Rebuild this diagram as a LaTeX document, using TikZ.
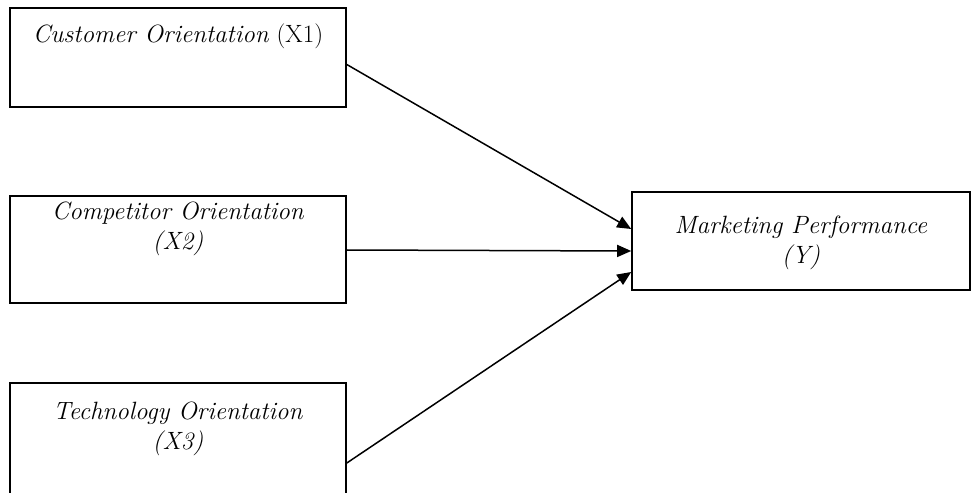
\documentclass[tikz,border=0pt]{standalone}
\usepackage{fontspec}
\setmainfont{Latin Modern Roman}
\usetikzlibrary{arrows.meta,calc}
\begin{document}
\begin{tikzpicture}[x=1bp,y=-1bp,
  box/.style={draw,line width=1.6bp,inner sep=0pt},
  lbl/.style={font=\fontsize{25bp}{30bp}\selectfont,align=center,inner sep=0pt},
  arr/.style={line width=1.5bp,-{Triangle[length=14bp,width=12bp]}}]
\useasboundingbox (0,0) rectangle (974,493);
\node[box,minimum width=336bp,minimum height=99bp] (x1) at (178,57.5) {};
\node[box,minimum width=336bp,minimum height=107bp] (x2) at (178,249.5) {};
\node[box,minimum width=336bp,minimum height=120bp] (x3) at (178,443) {};
\node[box,minimum width=338bp,minimum height=98bp] (y) at (801,241) {};
\node[lbl] (t1) at (178,36) {\textit{Customer Orientation} (X1)};
\node[lbl] (t2) at (178,229) {\textit{Competitor Orientation}\\\textit{(X2)}};
\node[lbl] (t3) at (178,429) {\textit{Technology Orientation}\\\textit{(X3)}};
\node[lbl] (ty) at (801,243) {\textit{Marketing Performance}\\\textit{(Y)}};
\draw[arr] ($(x1.east)+(0,7)$) -- ($(y.west)+(0,-12)$);
\draw[arr] ($(x2.east)+(0,0.5)$) -- ($(y.west)+(0,10)$);
\draw[arr] ($(x3.east)+(0,20)$) -- ($(y.west)+(0,31)$);
\end{tikzpicture}
\end{document}
